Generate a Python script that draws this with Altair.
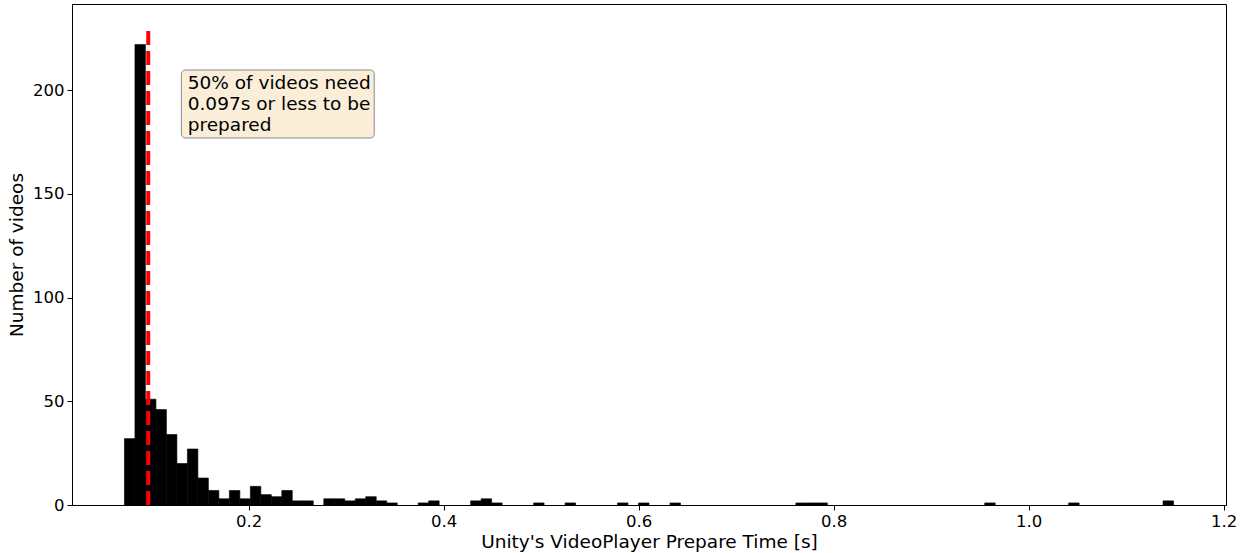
import altair as alt
import numpy as np
import pandas as pd

# Histogram: 100 equal bins between the min and max prepare time
bin_start = 0.0726
bin_end = 1.1487
n_bins = 100
nonzero_bins = [0, 1, 2, 3, 4, 5, 6, 7, 8, 9, 10, 11, 12, 13, 14, 15, 16, 17,
                19, 20, 21, 22, 23, 24, 25, 28, 29, 33, 34, 35, 39, 42, 47, 49,
                52, 64, 65, 66, 82, 90, 99]
nonzero_counts = [32, 222, 51, 46, 34, 20, 27, 13, 7, 3, 7, 3, 9, 5, 4, 7, 2, 2,
                  3, 3, 2, 3, 4, 2, 1, 1, 2, 2, 3, 1, 1, 1, 1, 1,
                  1, 1, 1, 1, 1, 1, 2]
median_value = 0.097
median_line_top = 230
note_lines = ["50% of videos need", "0.097s or less to be", "prepared"]
x_ticks = [0.2, 0.4, 0.6, 0.8, 1.0, 1.2]
y_ticks = [0, 50, 100, 150, 200]

edges = np.linspace(bin_start, bin_end, n_bins + 1)
counts = np.zeros(n_bins, dtype=int)
counts[nonzero_bins] = nonzero_counts
hist = pd.DataFrame({"x0": edges[:-1], "x1": edges[1:], "count": counts})
hist = hist[hist["count"] > 0]

x_dom = [0.0188, 1.2025]
y_dom = [0, 241.5]
xs = alt.Scale(domain=x_dom, nice=False, zero=False)
ys = alt.Scale(domain=y_dom, nice=False)

bars = alt.Chart(hist).mark_rect(color="black", stroke="black", strokeWidth=0.6).encode(
    x=alt.X("x0:Q", scale=xs,
            axis=alt.Axis(values=x_ticks, format=".1f",
                          title="Unity's VideoPlayer Prepare Time [s]")),
    x2="x1:Q",
    y=alt.Y("count:Q", scale=ys,
            axis=alt.Axis(values=y_ticks, title="Number of videos")),
    y2=alt.datum(0),
)

rule = alt.Chart(pd.DataFrame({"x": [median_value], "y0": [0], "y1": [median_line_top]})).mark_rule(
    color="#ff0000", strokeWidth=4, strokeDash=[14, 6]
).encode(x=alt.X("x:Q", scale=xs), y=alt.Y("y0:Q", scale=ys), y2="y1:Q")

box = alt.Chart(pd.DataFrame({"x0": [0.131], "x1": [0.3288], "y0": [176.9], "y1": [209.7]})).mark_rect(
    fill="#FAEED9", stroke="#8a8a8a", strokeWidth=1, cornerRadius=4
).encode(x=alt.X("x0:Q", scale=xs), x2="x1:Q", y=alt.Y("y0:Q", scale=ys), y2="y1:Q")

note = alt.Chart(pd.DataFrame({"x": [0.1375], "y": [207.6], "t": [note_lines]})).mark_text(
    align="left", baseline="top", fontSize=18.5, lineHeight=21, font="DejaVu Sans", color="black"
).encode(x=alt.X("x:Q", scale=xs), y=alt.Y("y:Q", scale=ys), text="t")

chart = alt.layer(bars, rule, box, note).properties(
    width=1154, height=501,
    padding={"left": 72, "top": 4, "right": 19, "bottom": 48},
    autosize="none",
).configure_view(
    stroke="black", strokeWidth=1
).configure_axis(
    grid=False, domainColor="black", tickColor="black", tickSize=5,
    labelColor="black", labelFont="DejaVu Sans", labelFontSize=16.5,
    titleFont="DejaVu Sans", titleFontSize=18.5, titleFontWeight="normal",
    titleColor="black", labelPadding=3,
).configure_axisX(titlePadding=3).configure_axisY(titlePadding=6)

chart.save("out.html", embed_options={"renderer": "svg", "actions": False})
